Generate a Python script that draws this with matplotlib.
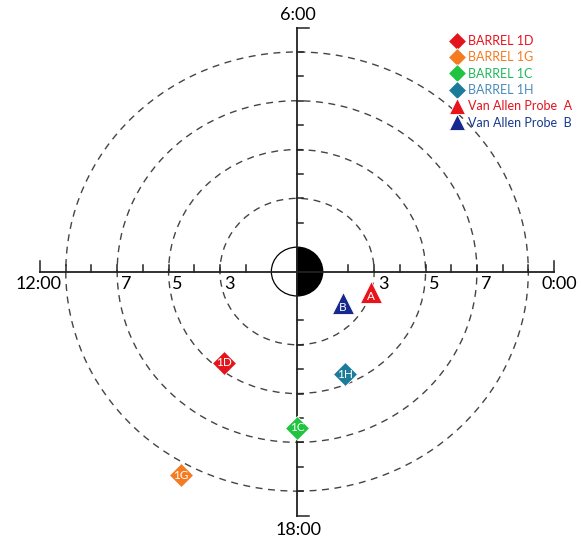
import numpy as np
import matplotlib
matplotlib.use("Agg")
import matplotlib.pyplot as plt
from matplotlib.patches import Circle, Wedge

plt.rcParams['font.family'] = ['Lato', 'DejaVu Sans']

# positions as (L, MLT in hours)
names = ["BARREL 1D", "BARREL 1G", "BARREL 1C", "BARREL 1H", "Van Allen Probe  A", "Van Allen Probe  B"]
tags = ["1D", "1G", "1C", "1H", "A", "B"]
L_vals = [4.7, 9.5, 6.4, 4.6, 3.0, 2.2]
mlt_vals = [15.5, 16.1, 18.0, 19.6, 22.9, 21.6]
markers = ["D", "D", "D", "D", "^", "^"]
colors = ["#e3141b", "#f47b20", "#1fc440", "#1a7b9b", "#e8141b", "#17298f"]
text_colors = ["#e8141b", "#f47b20", "#22b85a", "#4a8bbb", "#e3141b", "#17398f"]

rings = [3, 5, 7, 9]
ring_labels = [3, 5, 7]
axis_len = 10
time_labels = ["0:00", "6:00", "12:00", "18:00"]

fig = plt.figure(figsize=(5.81, 5.37), dpi=100)
ax = fig.add_axes([0, 0, 1, 1])
ax.set_xlim(-11.56, 11.05)
ax.set_ylim(-10.88, 11.13)
ax.axis('off')

for r in rings:
    ax.add_patch(Circle((0, 0), r, fill=False, ec="#444444", lw=1.0, ls=(0, (5, 4)), zorder=1))

# earth: day side white, night side black
ax.add_patch(Wedge((0, 0), 1, 90, 270, fc="white", ec="black", lw=0.9, zorder=2))
ax.add_patch(Wedge((0, 0), 1, -90, 90, fc="black", ec="black", lw=0.9, zorder=2))

# axes lines
ax.plot([-axis_len, axis_len], [0, 0], color="#222222", lw=1.3, zorder=3)
ax.plot([0, 0], [-axis_len, axis_len], color="#222222", lw=1.3, zorder=3)
for k in range(2, axis_len):
    for s in (-1, 1):
        ax.plot([s * k, s * k], [0, 0.28], color="#222222", lw=1.1, zorder=3)
        ax.plot([0, 0.23], [s * k, s * k], color="#222222", lw=1.1, zorder=3)
for s in (-1, 1):
    ax.plot([s * axis_len, s * axis_len], [0, 0.42], color="#222222", lw=1.1, zorder=3)
    ax.plot([0, 0.45], [s * axis_len, s * axis_len], color="#222222", lw=1.1, zorder=3)

for r in ring_labels:
    for s in (-1, 1):
        ax.text(s * r + 0.15, -0.2, str(r), ha='left', va='top', fontsize=13)

ax.text(10.2, -0.2, time_labels[0], ha='center', va='top', fontsize=13)
ax.text(0.05, 10.2, time_labels[1], ha='center', va='bottom', fontsize=13)
ax.text(-10.05, -0.2, time_labels[2], ha='center', va='top', fontsize=13)
ax.text(0.05, -10.25, time_labels[3], ha='center', va='top', fontsize=13)

handles = []
for name, tag, L, mlt, m, c in zip(names, tags, L_vals, mlt_vals, markers, colors):
    ang = np.deg2rad(mlt * 15)
    x, y = L * np.cos(ang), L * np.sin(ang)
    ms = 12.2 if m == "D" else 16
    h, = ax.plot(x, y, marker=m, ms=ms, color=c, mec="white", mew=0.6, ls='none', zorder=4, label=name)
    handles.append(h)
    dy = 0 if m == "D" else -0.18
    ax.text(x, y + dy, tag, color="white", ha='center', va='center', fontsize=8.5, zorder=5)

leg = ax.legend(handles=handles, loc='upper left', bbox_to_anchor=(0.776, 0.935), frameon=False,
                fontsize=9, markerscale=0.72, handlelength=1.0, handletextpad=0.35,
                labelspacing=0.35, borderpad=0, borderaxespad=0)
for t, c in zip(leg.get_texts(), text_colors):
    t.set_color(c)

fig.savefig("out.png", dpi=100)
